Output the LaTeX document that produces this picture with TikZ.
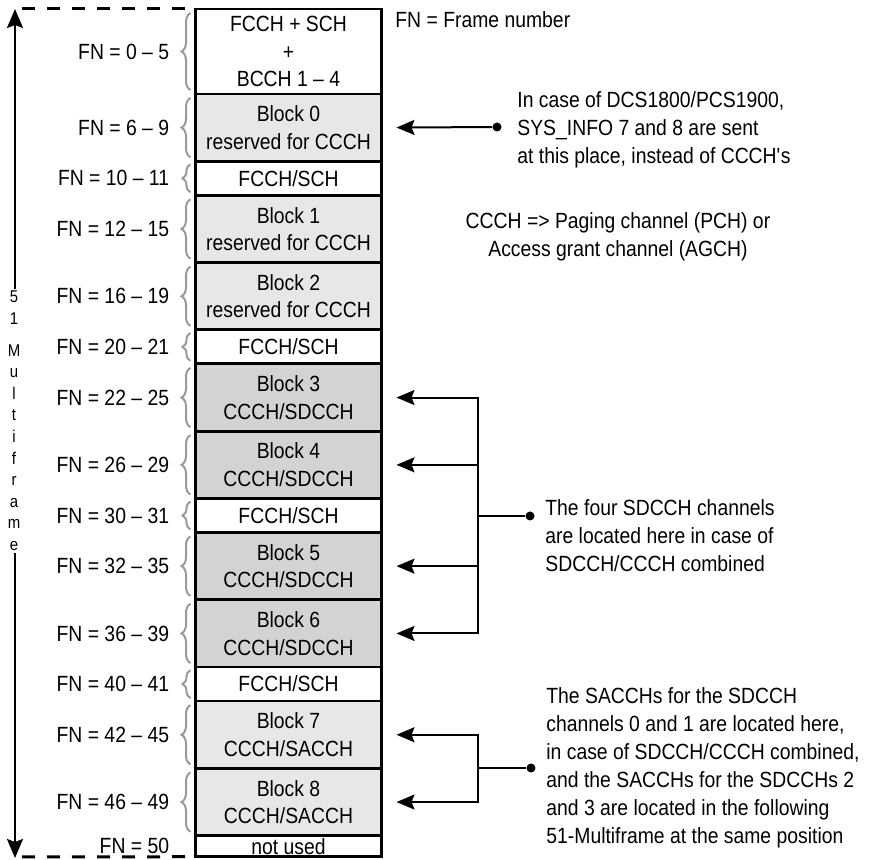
\documentclass[tikz,border=0pt]{standalone}
\usepackage{fontspec}
\setmainfont{Liberation Sans}[FakeStretch=0.88]
\usetikzlibrary{positioning,arrows.meta,decorations.pathreplacing}
\definecolor{lightcell}{HTML}{E6E7E8}
\definecolor{darkcell}{HTML}{D1D3D4}
\definecolor{bracegray}{HTML}{9A9A9A}
\tikzset{
  txt/.style={font=\fontsize{11}{13.8}\selectfont},
  cell/.style={txt, draw, line width=1.4pt, minimum width=93pt, inner sep=0pt, outer sep=0pt, align=center},
  top3/.style={minimum height=42.5pt},
  blk/.style={minimum height=33.65pt},
  pair/.style={minimum height=17pt},
  lastrow/.style={minimum height=10.5pt},
  fnlab/.style={txt, inner sep=0pt},
  fnbrace/.style={bracegray, line width=1pt, decorate, decoration={brace, amplitude=4.5pt}},
  note/.style={font=\fontsize{11}{14}\selectfont, inner sep=0pt, align=left},
  conn/.style={line width=1pt},
  tip/.style={-{Stealth[length=9pt, width=7.5pt, inset=1.5pt]}, shorten >=7.5pt},
  joint/.style={circle, fill, inner sep=0pt, minimum size=4.5pt},
  dashline/.style={line width=1.5pt, dash pattern=on 6.5pt off 6pt}
}
\begin{document}
\begin{tikzpicture}[x=0.5pt,y=-0.5pt]
\useasboundingbox (0,0) rectangle (874,860);
% the 51-multiframe
\node[cell, top3, anchor=north] (r0) at (288.5,9) {FCCH + SCH\\+\\BCCH 1 – 4};
\node[cell, blk, fill=lightcell, below=0pt of r0] (r1) {Block 0\\reserved for CCCH};
\node[cell, pair, below=0pt of r1] (r2) {FCCH/SCH};
\node[cell, blk, fill=lightcell, below=0pt of r2] (r3) {Block 1\\reserved for CCCH};
\node[cell, blk, fill=lightcell, below=0pt of r3] (r4) {Block 2\\reserved for CCCH};
\node[cell, pair, below=0pt of r4] (r5) {FCCH/SCH};
\node[cell, blk, fill=darkcell, below=0pt of r5] (r6) {Block 3\\CCCH/SDCCH};
\node[cell, blk, fill=darkcell, below=0pt of r6] (r7) {Block 4\\CCCH/SDCCH};
\node[cell, pair, below=0pt of r7] (r8) {FCCH/SCH};
\node[cell, blk, fill=darkcell, below=0pt of r8] (r9) {Block 5\\CCCH/SDCCH};
\node[cell, blk, fill=darkcell, below=0pt of r9] (r10) {Block 6\\CCCH/SDCCH};
\node[cell, pair, below=0pt of r10] (r11) {FCCH/SCH};
\node[cell, blk, fill=lightcell, below=0pt of r11] (r12) {Block 7\\CCCH/SACCH};
\node[cell, blk, fill=lightcell, below=0pt of r12] (r13) {Block 8\\CCCH/SACCH};
\node[cell, lastrow, below=0pt of r13] (r14) {not used};
% frame numbers
\node[fnlab, left=13pt of r0.west] (l0) {FN = 0 – 5};
\node[fnlab, left=13pt of r1.west] (l1) {FN = 6 – 9};
\node[fnlab, left=13pt of r2.west] (l2) {FN = 10 – 11};
\node[fnlab, left=13pt of r3.west] (l3) {FN = 12 – 15};
\node[fnlab, left=13pt of r4.west] (l4) {FN = 16 – 19};
\node[fnlab, left=13pt of r5.west] (l5) {FN = 20 – 21};
\node[fnlab, left=13pt of r6.west] (l6) {FN = 22 – 25};
\node[fnlab, left=13pt of r7.west] (l7) {FN = 26 – 29};
\node[fnlab, left=13pt of r8.west] (l8) {FN = 30 – 31};
\node[fnlab, left=13pt of r9.west] (l9) {FN = 32 – 35};
\node[fnlab, left=13pt of r10.west] (l10) {FN = 36 – 39};
\node[fnlab, left=13pt of r11.west] (l11) {FN = 40 – 41};
\node[fnlab, left=13pt of r12.west] (l12) {FN = 42 – 45};
\node[fnlab, left=13pt of r13.west] (l13) {FN = 46 – 49};
\node[fnlab, left=13pt of r14.west] (l14) {FN = 50};
\foreach \r in {r0,r1,r3,r4,r6,r7,r9,r10,r12,r13}
  \draw[fnbrace] ([xshift=-2.5pt,yshift=2pt]\r.south west) -- ([xshift=-2.5pt,yshift=-2pt]\r.north west);
\foreach \r in {r2,r5,r8,r11}
  \draw[fnbrace, decoration={amplitude=4pt}] ([xshift=-2.5pt,yshift=1.5pt]\r.south west) -- ([xshift=-2.5pt,yshift=-1.5pt]\r.north west);
% multiframe span
\coordinate (atop) at (15,9);
\coordinate (abot) at (15,858);
\coordinate (dtop) at (22,9);
\coordinate (dbot) at (22,857);
\draw[dashline] (dtop) -- (r0.north west);
\draw[dashline] (dbot) -- (r14.south west);
\draw[conn, {Stealth[length=9.5pt, width=8pt, inset=1.5pt]}-{Stealth[length=9.5pt, width=8pt, inset=1.5pt]}] (abot) -- (atop);
\node[fill=white, inner sep=1pt, align=center, font=\fontsize{8.5}{10.8}\selectfont] (mf) at (14,421) {5\\1\\[5pt]M\\u\\l\\t\\i\\f\\r\\a\\m\\e};
% notes
\node[note, anchor=west] (key) at (395,20) {FN = Frame number};
\node[joint] (d1) at (497,127) {};
\node[note, anchor=west] (n1) at (517,130) {In case of DCS1800/PCS1900,\\SYS\_INFO 7 and 8 are sent\\at this place, instead of CCCH\textquotesingle s};
\draw[conn, tip] (d1) -- (r1.east);
\node[note, align=center] (n2) at (618,237) {CCCH => Paging channel (PCH) or\\Access grant channel (AGCH)};
\coordinate (j1) at (478,516);
\node[joint] (d2) at (530,516) {};
\node[note, anchor=west] (n3) at (545,536) {The four SDCCH channels\\are located here in case of\\SDCCH/CCCH combined};
\draw[conn] (d2) -- (j1);
\draw[conn, tip] (j1) |- (r6.east);
\draw[conn, tip] (j1) |- (r7.east);
\draw[conn, tip] (j1) |- (r9.east);
\draw[conn, tip] (j1) |- (r10.east);
\coordinate (j2) at (478,768);
\node[joint] (d3) at (531,768) {};
\node[note, anchor=west] (n4) at (546,768) {The SACCHs for the SDCCH\\channels 0 and 1 are located here,\\in case of SDCCH/CCCH combined,\\and the SACCHs for the SDCCHs 2\\and 3 are located in the following\\51-Multiframe at the same position};
\draw[conn] (d3) -- (j2);
\draw[conn, tip] (j2) |- (r12.east);
\draw[conn, tip] (j2) |- (r13.east);
\end{tikzpicture}
\end{document}
